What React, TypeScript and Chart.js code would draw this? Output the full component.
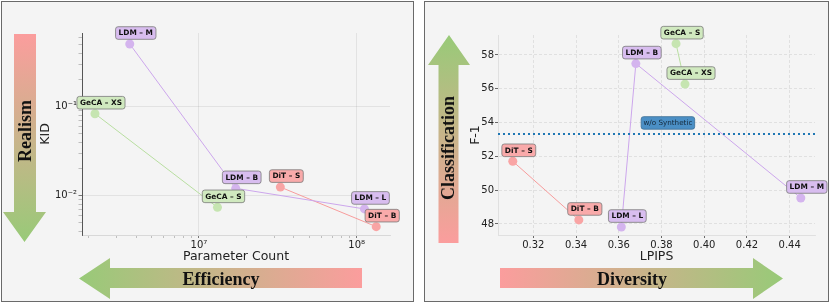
import React, { useEffect, useRef } from "react";
import { Chart, registerables } from "chart.js";

Chart.register(...registerables);

// ---------- Data: left chart (Parameter Count vs KID) ----------
const ldmNames = ["LDM – M", "LDM – B", "LDM – L"];
const ldmParams = [3.64e6, 1.71e7, 1.12e8];
const ldmKID = [0.506, 0.0121, 0.0071];

const gecaNames = ["GeCA – XS", "GeCA – S"];
const gecaParams = [2.19e6, 1.31e7];
const gecaKID = [0.0834, 0.0074];

const ditNames = ["DiT – S", "DiT – B"];
const ditParams = [3.28e7, 1.33e8];
const ditKID = [0.0125, 0.00449];

// ---------- Data: right chart (LPIPS vs F-1) ----------
const ldmLPIPS = [0.4452, 0.368, 0.3612];
const ldmF1 = [49.54, 57.49, 47.82];

const gecaLPIPS = [0.391, 0.3868];
const gecaF1 = [56.28, 58.67];

const ditLPIPS = [0.3104, 0.3413];
const ditF1 = [51.71, 48.24];

const baselineF1 = 53.33;
const baselineLabel = "w/o Synthetic";
const baselineLabelPos = [0.383, 53.98];

// ---------- Ticks ----------
const paramMajorTicks = [1e7, 1e8];
const paramMajorLabels = ["10⁷", "10⁸"];
const paramMinorTicks = [2e6, 3e6, 4e6, 5e6, 6e6, 7e6, 8e6, 9e6, 2e7, 3e7, 4e7, 5e7, 6e7, 7e7, 8e7, 9e7];
const kidMajorTicks = [0.01, 0.1];
const kidMajorLabels = ["10⁻²", "10⁻¹"];
const kidMinorTicks = [0.004, 0.005, 0.006, 0.007, 0.008, 0.009, 0.02, 0.03, 0.04, 0.05, 0.06, 0.07, 0.08, 0.09, 0.2, 0.3, 0.4, 0.5, 0.6];
const lpipsTicks = [0.32, 0.34, 0.36, 0.38, 0.4, 0.42, 0.44];
const f1Ticks = [48, 50, 52, 54, 56, 58];

// ---------- Styles ----------
const COLORS = {
  ldm: { point: "#d4b4ee", line: "#cca6ec", box: "#d8bdef" },
  geca: { point: "#c6e5b1", line: "#b8dea0", box: "#d0e9bf" },
  dit: { point: "#f9a4a4", line: "#f79c9c", box: "#f9aaaa" },
};
const PINK = "#fb9d9d";
const GREEN = "#98ca78";

Chart.defaults.font.family = "'DejaVu Sans', sans-serif";

function pts(xs: number[], ys: number[], names: string[]) {
  return xs
    .map((x, i) => ({ x, y: ys[i], name: names[i] }))
    .sort((a, b) => a.x - b.x);
}

function series(data: any[], c: { point: string; line: string; box: string }) {
  return {
    data,
    showLine: true,
    borderColor: c.line,
    borderWidth: 1,
    pointRadius: 4.5,
    pointHoverRadius: 4.5,
    pointBorderWidth: 0,
    pointBackgroundColor: c.point,
    backgroundColor: c.point,
    boxColor: c.box,
  };
}

function roundRect(ctx: CanvasRenderingContext2D, x: number, y: number, w: number, h: number, r: number) {
  ctx.beginPath();
  ctx.moveTo(x + r, y);
  ctx.lineTo(x + w - r, y);
  ctx.quadraticCurveTo(x + w, y, x + w, y + r);
  ctx.lineTo(x + w, y + h - r);
  ctx.quadraticCurveTo(x + w, y + h, x + w - r, y + h);
  ctx.lineTo(x + r, y + h);
  ctx.quadraticCurveTo(x, y + h, x, y + h - r);
  ctx.lineTo(x, y + r);
  ctx.quadraticCurveTo(x, y, x + r, y);
  ctx.closePath();
}

function drawBox(ctx: CanvasRenderingContext2D, cx: number, cy: number, text: string, font: string, fill: string, stroke: string, pad: number, color: string) {
  ctx.font = font;
  const w = ctx.measureText(text).width + pad * 2;
  const h = 12.6;
  roundRect(ctx, cx - w / 2, cy - h / 2, w, h, 2.5);
  ctx.fillStyle = fill;
  ctx.fill();
  ctx.lineWidth = 0.8;
  ctx.strokeStyle = stroke;
  ctx.stroke();
  ctx.fillStyle = color;
  ctx.textAlign = "center";
  ctx.textBaseline = "middle";
  ctx.fillText(text, cx, cy + 0.5);
}

const labelPlugin = {
  id: "pointLabels",
  afterDatasetsDraw(chart: any, _args: any, opts: any) {
    const ctx = chart.ctx as CanvasRenderingContext2D;
    const xs = chart.scales.x;
    const ys = chart.scales.y;
    ctx.save();
    if (opts && opts.baseline != null) {
      const y = ys.getPixelForValue(opts.baseline);
      ctx.beginPath();
      ctx.setLineDash([2, 3]);
      ctx.lineWidth = 2;
      ctx.strokeStyle = "#1f77b4";
      ctx.moveTo(chart.chartArea.left, y);
      ctx.lineTo(chart.chartArea.right, y);
      ctx.stroke();
      ctx.setLineDash([]);
      drawBox(
        ctx,
        xs.getPixelForValue(opts.baselinePos[0]),
        ys.getPixelForValue(opts.baselinePos[1]),
        opts.baselineText,
        "7.2px 'DejaVu Sans'",
        "#4b8fc5",
        "#3b6d94",
        2.3,
        "#14283a"
      );
    }
    chart.data.datasets.forEach((ds: any) => {
      ds.data.forEach((p: any) => {
        const px = xs.getPixelForValue(p.x);
        const py = ys.getPixelForValue(p.y);
        drawBox(ctx, px + 6, py - 11, p.name, "bold 7.4px 'DejaVu Sans'", ds.boxColor, "#7a7a7a", 3, "#111");
      });
    });
    ctx.restore();
  },
};

function isDecade(v: number) {
  const l = Math.log10(v);
  return Math.abs(l - Math.round(l)) < 1e-9;
}

function LeftChart() {
  const ref = useRef<HTMLCanvasElement>(null);
  useEffect(() => {
    const chart = new Chart(ref.current!, {
      type: "scatter",
      data: {
        datasets: [
          series(pts(gecaParams, gecaKID, gecaNames), COLORS.geca),
          series(pts(ldmParams, ldmKID, ldmNames), COLORS.ldm),
          series(pts(ditParams, ditKID, ditNames), COLORS.dit),
        ] as any,
      },
      options: {
        animation: false,
        responsive: false,
        events: [],
        layout: { padding: { left: 38, right: 25, top: 33, bottom: 40 } },
        plugins: { legend: { display: false }, tooltip: { enabled: false } } as any,
        scales: {
          x: {
            type: "logarithmic",
            min: 1.8122e6,
            max: 1.6265e8,
            afterFit: (s: any) => { s.height = 29; },
            afterBuildTicks: (s: any) => {
              s.ticks = [...paramMinorTicks, ...paramMajorTicks].sort((a, b) => a - b).map((v) => ({ value: v }));
            },
            ticks: {
              autoSkip: false,
              maxRotation: 0,
              padding: 1,
              color: "#222",
              font: { size: 10 },
              callback: (v: any) => {
                const i = paramMajorTicks.findIndex((m) => Math.abs(m - v) / m < 1e-9);
                return i >= 0 ? paramMajorLabels[i] : "";
              },
            },
            grid: {
              color: (c: any) => (c.tick && isDecade(c.tick.value) ? "rgba(0,0,0,0.09)" : "rgba(0,0,0,0)"),
              tickColor: (c: any) => (c.tick && isDecade(c.tick.value) ? "#555" : "#b0b0b0"),
              tickLength: 3,
              lineWidth: 0.8,
            },
            border: { color: "#d8d8d8", width: 1 },
            title: { display: true, text: "Parameter Count", color: "#222", font: { size: 12.5 }, padding: 0 },
          },
          y: {
            type: "logarithmic",
            min: 0.003618,
            max: 0.673,
            afterFit: (s: any) => { s.width = 44; },
            afterBuildTicks: (s: any) => {
              s.ticks = [...kidMinorTicks, ...kidMajorTicks].sort((a, b) => a - b).map((v) => ({ value: v }));
            },
            ticks: {
              autoSkip: false,
              padding: 1.5,
              color: "#222",
              font: { size: 10 },
              callback: (v: any) => {
                const i = kidMajorTicks.findIndex((m) => Math.abs(m - v) / m < 1e-9);
                return i >= 0 ? kidMajorLabels[i] : "";
              },
            },
            grid: {
              color: (c: any) => (c.tick && isDecade(c.tick.value) ? "rgba(0,0,0,0.09)" : "rgba(0,0,0,0)"),
              tickColor: (c: any) => (c.tick && isDecade(c.tick.value) ? "#555" : "#b0b0b0"),
              tickLength: 3.5,
              lineWidth: 0.8,
            },
            border: { color: "#555", width: 1 },
            title: { display: true, text: "KID", color: "#222", font: { size: 12.5 }, padding: 0 },
          },
        },
      } as any,
      plugins: [labelPlugin],
    });
    return () => chart.destroy();
  }, []);
  return <canvas ref={ref} width={415} height={304} style={{ position: "absolute", left: 0, top: 0, width: 415, height: 304 }} />;
}

function RightChart() {
  const ref = useRef<HTMLCanvasElement>(null);
  useEffect(() => {
    const chart = new Chart(ref.current!, {
      type: "scatter",
      data: {
        datasets: [
          series(pts(gecaLPIPS, gecaF1, ["GeCA – XS", "GeCA – S"]), COLORS.geca),
          series(pts(ldmLPIPS, ldmF1, ldmNames), COLORS.ldm),
          series(pts(ditLPIPS, ditF1, ditNames), COLORS.dit),
        ] as any,
      },
      options: {
        animation: false,
        responsive: false,
        events: [],
        layout: { padding: { left: 53, right: 15, top: 35, bottom: 40 } },
        plugins: {
          legend: { display: false },
          tooltip: { enabled: false },
          pointLabels: { baseline: baselineF1, baselinePos: baselineLabelPos, baselineText: baselineLabel },
        } as any,
        scales: {
          x: {
            type: "linear",
            min: 0.30348,
            max: 0.45184,
            afterFit: (s: any) => { s.height = 29; },
            afterBuildTicks: (s: any) => { s.ticks = lpipsTicks.map((v) => ({ value: v })); },
            ticks: {
              autoSkip: false,
              maxRotation: 0,
              padding: 1,
              color: "#222",
              font: { size: 10 },
              callback: (v: any) => Number(v).toFixed(2),
            },
            grid: { color: "rgba(0,0,0,0.1)", tickColor: "#444", tickLength: 3, lineWidth: 0.8 },
            border: { color: "#e0e0e0", width: 1, dash: [3, 2] },
            title: { display: true, text: "LPIPS", color: "#222", font: { size: 12.5 }, padding: 0 },
          },
          y: {
            type: "linear",
            min: 47.349,
            max: 59.183,
            afterFit: (s: any) => { s.width = 30; },
            afterBuildTicks: (s: any) => { s.ticks = f1Ticks.map((v) => ({ value: v })); },
            ticks: { autoSkip: false, padding: 1, color: "#222", font: { size: 10 }, callback: (v: any) => String(v) },
            grid: { color: "rgba(0,0,0,0.1)", tickColor: "#444", tickLength: 3, lineWidth: 0.8 },
            border: { color: "#e0e0e0", width: 1, dash: [3, 2] },
            title: { display: true, text: "F-1", color: "#222", font: { size: 12.5 }, padding: 0 },
          },
        },
      } as any,
      plugins: [labelPlugin],
    });
    return () => chart.destroy();
  }, []);
  return <canvas ref={ref} width={415} height={304} style={{ position: "absolute", left: 415, top: 0, width: 415, height: 304 }} />;
}

function Arrow(props: { left: number; top: number; width: number; height: number; poly: string; dir: string; from: string; to: string }) {
  return (
    <div
      style={{
        position: "absolute",
        left: props.left,
        top: props.top,
        width: props.width,
        height: props.height,
        background: `linear-gradient(${props.dir}, ${props.from}, ${props.to})`,
        clipPath: `polygon(${props.poly})`,
      }}
    />
  );
}

function BigText(props: { x: number; y: number; text: string; rotate?: boolean }) {
  return (
    <div
      style={{
        position: "absolute",
        left: props.x,
        top: props.y,
        transform: `translate(-50%, -50%)${props.rotate ? " rotate(-90deg)" : ""}`,
        fontFamily: "'Liberation Serif', 'Times New Roman', serif",
        fontWeight: "bold",
        fontSize: 18,
        lineHeight: "18px",
        color: "#111",
        whiteSpace: "nowrap",
      }}
    >
      {props.text}
    </div>
  );
}

export default function App() {
  useEffect(() => {
    document.body.style.margin = "0";
  }, []);
  const panel = (left: number, width: number): React.CSSProperties => ({
    position: "absolute",
    left,
    top: 1,
    width,
    height: 299,
    background: "#f4f4f4",
    border: "1px solid #6a6a6a",
  });
  return (
    <div style={{ position: "fixed", left: 0, top: 0, width: 830, height: 304, background: "#fff", overflow: "hidden" }}>
      <div style={panel(1, 411)} />
      <div style={panel(424, 403)} />
      {/* Realism arrow (down) */}
      <Arrow left={3} top={34} width={43} height={208} dir="to bottom" from={PINK} to={GREEN}
        poly="11px 0, 33px 0, 33px 178px, 43px 178px, 21.5px 208px, 0 178px, 11px 178px" />
      {/* Efficiency arrow (left) */}
      <Arrow left={79} top={258} width={283} height={41} dir="to right" from={GREEN} to={PINK}
        poly="0 20.5px, 31px 0, 31px 10px, 283px 10px, 283px 30px, 31px 30px, 31px 41px" />
      {/* Classification arrow (up) */}
      <Arrow left={428} top={35} width={42} height={208} dir="to top" from={PINK} to={GREEN}
        poly="21px 0, 42px 30px, 30.5px 30px, 30.5px 208px, 10.5px 208px, 10.5px 30px, 0 30px" />
      {/* Diversity arrow (right) */}
      <Arrow left={500} top={258} width={283} height={41} dir="to right" from={PINK} to={GREEN}
        poly="0 10px, 253px 10px, 253px 0, 283px 20.5px, 253px 41px, 253px 30px, 0 30px" />
      <LeftChart />
      <RightChart />
      <BigText x={24.5} y={131} text="Realism" rotate />
      <BigText x={221} y={278.5} text="Efficiency" />
      <BigText x={447.5} y={147.5} text="Classification" rotate />
      <BigText x={632} y={278.5} text="Diversity" />
    </div>
  );
}
